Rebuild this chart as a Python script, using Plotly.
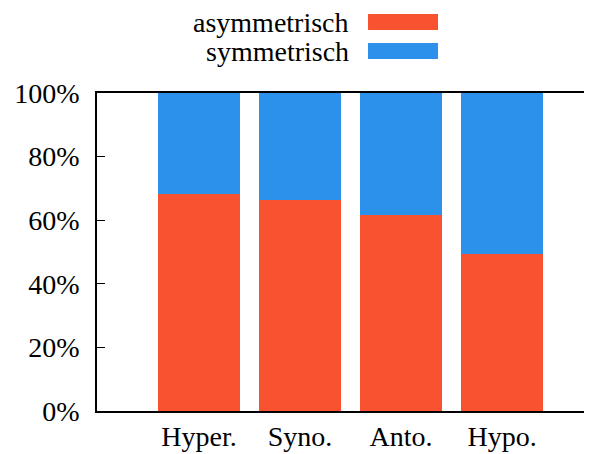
import plotly.graph_objects as go

categories = ["Hyper.", "Syno.", "Anto.", "Hypo."]
asym = [68.1, 66.4, 61.6, 49.5]
sym = [100 - v for v in asym]
y_ticks = [0, 20, 40, 60, 80, 100]
y_ticktext = ["0%", "20%", "40%", "60%", "80%", "100%"]

RED = "#F85230"
BLUE = "#2C91EA"
FONT = "Liberation Serif"
FS = 28

xpos = list(range(len(categories)))

fig = go.Figure()
fig.add_trace(go.Bar(x=xpos, y=asym, name="asymmetrisch", marker=dict(color=RED, line=dict(width=0)), width=0.81))
fig.add_trace(go.Bar(x=xpos, y=sym, name="symmetrisch", marker=dict(color=BLUE, line=dict(width=0)), width=0.81))

# page body has an 8px margin, so the figure is sized/offset to compensate
fig.update_layout(
    barmode="stack",
    width=584, height=446,
    margin=dict(l=89, r=0, t=85, b=43, autoexpand=False),
    paper_bgcolor="white", plot_bgcolor="white",
    showlegend=False,
    font=dict(family=FONT, size=FS, color="black"),
    xaxis=dict(
        range=[-1.01, 3.89], tickmode="array", tickvals=xpos, ticktext=categories,
        showline=True, linecolor="black", linewidth=1.5, mirror=True,
        ticks="", showgrid=False, zeroline=False, ticklabelstandoff=0, automargin=False,
    ),
    yaxis=dict(
        range=[0, 100], tickmode="array", tickvals=y_ticks, ticktext=y_ticktext,
        showline=True, linecolor="black", linewidth=1.5,
        ticks="inside", ticklen=8, tickwidth=1.2, tickcolor="black",
        showgrid=False, zeroline=False, ticklabelstandoff=10, automargin=False,
    ),
)

legend_items = [("asymmetrisch", RED, 1.223, 1.2484, 1.198), ("symmetrisch", BLUE, 1.132, 1.157, 1.107)]
for name, col, ty, y0, y1 in legend_items:
    fig.add_annotation(text=name, xref="paper", yref="paper", x=0.513, y=ty,
                       xanchor="right", yanchor="middle", showarrow=False,
                       font=dict(family=FONT, size=FS, color="black"))
    fig.add_shape(type="rect", xref="paper", yref="paper", x0=0.5475, x1=0.6889, y0=y1, y1=y0,
                  fillcolor=col, line=dict(width=0))

fig.write_html("out.html")
